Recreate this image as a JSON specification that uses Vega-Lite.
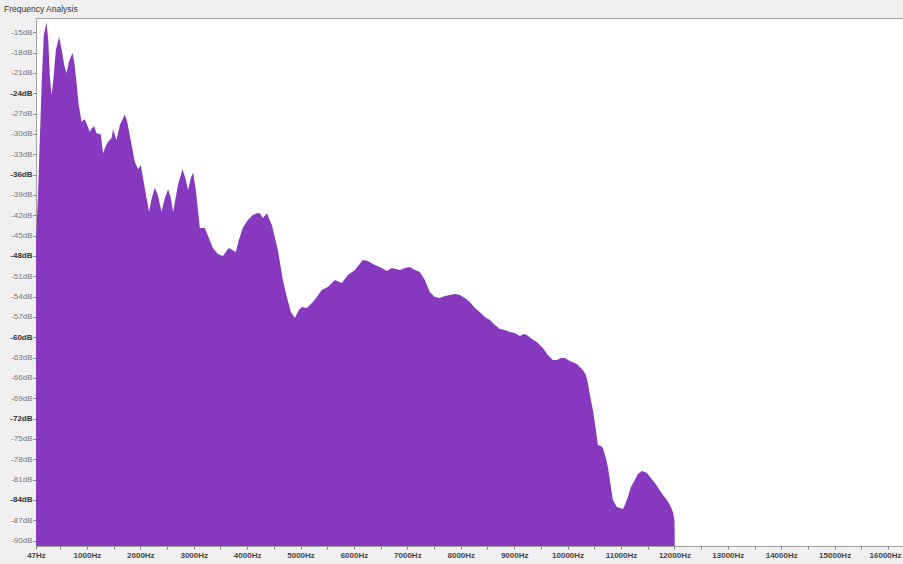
{
  "$schema": "https://vega.github.io/schema/vega-lite/v6.json",
  "width": 867,
  "height": 528,
  "autosize": {"type": "none"},
  "padding": {"left": 36, "top": 18, "right": 0, "bottom": 18},
  "background": "#f0f0f0",
  "view": {"fill": "white", "stroke": "#a0a0a0", "strokeWidth": 1},
  "title": {"text": "Frequency Analysis", "anchor": "start", "frame": "group", "dx": -32, "offset": 5, "fontSize": 8.5, "font": "Liberation Sans", "fontWeight": "normal", "color": "#333333"},
  "data": {"values": [
    {"f": 47, "db": -45.67}, {"f": 80, "db": -39.77}, {"f": 118, "db": -30.92}, {"f": 155, "db": -22.08}, {"f": 193, "db": -15.44},
    {"f": 243, "db": -13.57}, {"f": 277, "db": -16.18}, {"f": 305, "db": -21.34}, {"f": 337, "db": -24.29}, {"f": 371, "db": -22.08},
    {"f": 418, "db": -17.65}, {"f": 479, "db": -15.69}, {"f": 530, "db": -17.65}, {"f": 577, "db": -19.87}, {"f": 618, "db": -21.04},
    {"f": 661, "db": -19.42}, {"f": 730, "db": -18.05}, {"f": 764, "db": -19.42}, {"f": 805, "db": -22.33}, {"f": 848, "db": -25.76},
    {"f": 899, "db": -28.22}, {"f": 961, "db": -27.83}, {"f": 1007, "db": -28.71}, {"f": 1054, "db": -29.7}, {"f": 1092, "db": -29.15},
    {"f": 1135, "db": -28.86}, {"f": 1180, "db": -29.89}, {"f": 1260, "db": -30.04}, {"f": 1303, "db": -32.84}, {"f": 1345, "db": -31.95},
    {"f": 1397, "db": -31.17}, {"f": 1461, "db": -30.63}, {"f": 1491, "db": -29.3}, {"f": 1553, "db": -30.92}, {"f": 1616, "db": -28.71},
    {"f": 1710, "db": -27.13}, {"f": 1757, "db": -28.27}, {"f": 1803, "db": -30.19}, {"f": 1897, "db": -34.12}, {"f": 1959, "db": -35.2},
    {"f": 2009, "db": -34.61}, {"f": 2084, "db": -38.0}, {"f": 2165, "db": -41.49}, {"f": 2215, "db": -39.47}, {"f": 2272, "db": -37.95},
    {"f": 2328, "db": -39.03}, {"f": 2397, "db": -41.49}, {"f": 2459, "db": -39.47}, {"f": 2521, "db": -38.15}, {"f": 2571, "db": -39.47},
    {"f": 2615, "db": -41.49}, {"f": 2703, "db": -37.56}, {"f": 2790, "db": -35.2}, {"f": 2843, "db": -36.52}, {"f": 2895, "db": -38.29},
    {"f": 2946, "db": -36.52}, {"f": 2989, "db": -35.68}, {"f": 3039, "db": -38.29}, {"f": 3083, "db": -41.49}, {"f": 3114, "db": -43.9},
    {"f": 3208, "db": -43.9}, {"f": 3358, "db": -46.85}, {"f": 3451, "db": -47.73}, {"f": 3545, "db": -48.02}, {"f": 3601, "db": -47.44},
    {"f": 3657, "db": -46.85}, {"f": 3788, "db": -47.44}, {"f": 3845, "db": -45.67}, {"f": 3919, "db": -43.9}, {"f": 4013, "db": -42.72},
    {"f": 4107, "db": -41.98}, {"f": 4182, "db": -41.69}, {"f": 4238, "db": -41.69}, {"f": 4294, "db": -42.42}, {"f": 4369, "db": -41.69},
    {"f": 4463, "db": -43.45}, {"f": 4575, "db": -47.14}, {"f": 4669, "db": -51.56}, {"f": 4744, "db": -54.07}, {"f": 4819, "db": -56.28},
    {"f": 4894, "db": -57.17}, {"f": 4969, "db": -55.99}, {"f": 5025, "db": -55.54}, {"f": 5118, "db": -55.69}, {"f": 5231, "db": -54.81},
    {"f": 5306, "db": -54.07}, {"f": 5399, "db": -53.04}, {"f": 5511, "db": -52.59}, {"f": 5642, "db": -51.56}, {"f": 5773, "db": -52.0},
    {"f": 5886, "db": -50.82}, {"f": 6017, "db": -50.09}, {"f": 6167, "db": -48.61}, {"f": 6260, "db": -48.76}, {"f": 6391, "db": -49.35},
    {"f": 6522, "db": -49.79}, {"f": 6616, "db": -50.24}, {"f": 6710, "db": -49.79}, {"f": 6860, "db": -50.09}, {"f": 6953, "db": -49.79},
    {"f": 7047, "db": -49.65}, {"f": 7141, "db": -50.09}, {"f": 7234, "db": -50.38}, {"f": 7328, "db": -51.56}, {"f": 7421, "db": -53.33},
    {"f": 7515, "db": -54.07}, {"f": 7609, "db": -54.22}, {"f": 7702, "db": -53.92}, {"f": 7796, "db": -53.77}, {"f": 7890, "db": -53.63},
    {"f": 7983, "db": -53.77}, {"f": 8077, "db": -54.22}, {"f": 8171, "db": -54.81}, {"f": 8264, "db": -55.69}, {"f": 8358, "db": -56.28},
    {"f": 8451, "db": -57.02}, {"f": 8545, "db": -57.46}, {"f": 8639, "db": -58.2}, {"f": 8732, "db": -58.79}, {"f": 8826, "db": -58.94},
    {"f": 8920, "db": -59.23}, {"f": 9013, "db": -59.38}, {"f": 9107, "db": -59.82}, {"f": 9182, "db": -59.53}, {"f": 9238, "db": -59.67},
    {"f": 9331, "db": -60.26}, {"f": 9425, "db": -60.7}, {"f": 9481, "db": -61.15}, {"f": 9537, "db": -61.59}, {"f": 9631, "db": -62.62},
    {"f": 9724, "db": -63.36}, {"f": 9799, "db": -63.36}, {"f": 9874, "db": -63.06}, {"f": 9949, "db": -63.06}, {"f": 10043, "db": -63.5},
    {"f": 10174, "db": -63.95}, {"f": 10286, "db": -64.83}, {"f": 10343, "db": -65.57}, {"f": 10380, "db": -66.75}, {"f": 10418, "db": -68.52},
    {"f": 10474, "db": -70.73}, {"f": 10530, "db": -73.68}, {"f": 10567, "db": -75.89}, {"f": 10624, "db": -76.04}, {"f": 10661, "db": -76.33},
    {"f": 10717, "db": -77.81}, {"f": 10755, "db": -79.14}, {"f": 10792, "db": -81.05}, {"f": 10848, "db": -84.0}, {"f": 10923, "db": -85.03},
    {"f": 10979, "db": -85.18}, {"f": 11036, "db": -85.33}, {"f": 11073, "db": -84.74}, {"f": 11129, "db": -83.56}, {"f": 11185, "db": -82.08},
    {"f": 11260, "db": -81.05}, {"f": 11316, "db": -80.16}, {"f": 11391, "db": -79.72}, {"f": 11448, "db": -79.87}, {"f": 11485, "db": -80.02},
    {"f": 11560, "db": -80.75}, {"f": 11635, "db": -81.49}, {"f": 11710, "db": -82.38}, {"f": 11785, "db": -83.26}, {"f": 11860, "db": -84.0},
    {"f": 11916, "db": -84.74}, {"f": 11973, "db": -85.77}, {"f": 12001, "db": -86.95}, {"f": 12008, "db": -91.0}
  ]},
  "mark": {"type": "area", "color": "#8639be", "clip": true, "interpolate": "linear"},
  "encoding": {
    "x": {
      "field": "f", "type": "quantitative",
      "scale": {"domain": [47, 16280], "nice": false, "zero": false},
      "axis": {
        "title": null, "grid": false,
        "values": [47, 500, 1000, 1500, 2000, 2500, 3000, 3500, 4000, 4500, 5000, 5500, 6000, 6500, 7000, 7500, 8000, 8500, 9000, 9500, 10000, 10500, 11000, 11500, 12000, 12500, 13000, 13500, 14000, 14500, 15000, 15500, 16000],
        "labelExpr": "(datum.value % 1000 == 0 || datum.value == 47) ? datum.value + 'Hz' : ''",
        "labelOverlap": false, "labelFlush": false,
        "labelFont": "Liberation Sans", "labelFontSize": 8, "labelFontWeight": "bold", "labelColor": "#444444",
        "labelOffset": {"expr": "datum.value == 16000 ? -3 : 0"},
        "labelPadding": 2, "tickSize": 3, "tickColor": "#808080", "domainColor": "#a0a0a0"
      }
    },
    "y": {
      "field": "db", "type": "quantitative",
      "scale": {"domain": [-90.8, -12.9], "nice": false, "zero": false},
      "axis": {
        "title": null, "grid": false,
        "values": [-15, -18, -21, -24, -27, -30, -33, -36, -39, -42, -45, -48, -51, -54, -57, -60, -63, -66, -69, -72, -75, -78, -81, -84, -87, -90],
        "labelExpr": "datum.value + 'dB'",
        "labelOverlap": false, "labelFlush": false,
        "labelFont": "Liberation Sans", "labelFontSize": 8,
        "labelFontWeight": {"expr": "datum.value % 12 == 0 ? 'bold' : 'normal'"},
        "labelColor": {"expr": "datum.value % 12 == 0 ? '#333333' : '#777777'"},
        "labelPadding": 1, "tickSize": 3, "tickColor": "#808080", "domainColor": "#a0a0a0"
      }
    },
    "y2": {"datum": -91}
  }
}
